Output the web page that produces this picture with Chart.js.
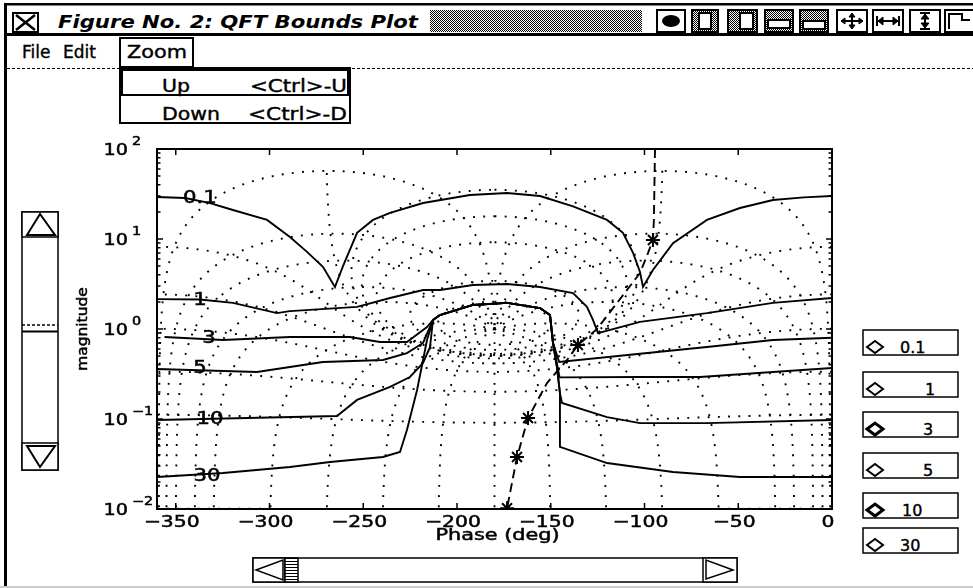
<!DOCTYPE html>
<html>
<head>
<meta charset="utf-8">
<title>QFT Bounds Plot</title>
<script src="https://cdn.jsdelivr.net/npm/chart.js@4.4.1/dist/chart.umd.min.js"></script>
<style>
  html, body { margin: 0; padding: 0; background: #fff; }
  #win { position: relative; width: 973px; height: 588px; overflow: hidden; background: #fff; }
  #chrome, #plot { position: absolute; left: 0; top: 0; }
</style>
</head>
<body>
<div id="win">
<svg id="chrome" width="973" height="588" viewBox="0 0 973 588" font-family="DejaVu Sans, sans-serif">
  <defs>
    <pattern id="dither" width="2" height="2" patternUnits="userSpaceOnUse">
      <rect width="2" height="2" fill="#fff"/><rect width="1" height="1" fill="#000"/><rect x="1" y="1" width="1" height="1" fill="#000"/>
    </pattern>
    <pattern id="hatch" width="3" height="3" patternUnits="userSpaceOnUse">
      <rect width="3" height="3" fill="#fff"/><rect width="3" height="1" fill="#000"/>
    </pattern>
  </defs>
  <!-- window frame -->
  <rect x="4" y="3" width="969" height="2.5" fill="#000"/>
  <rect x="4" y="3" width="3" height="585" fill="#000"/>
  <rect x="4" y="33" width="969" height="3" fill="#000"/>
  <line x1="7" y1="68.5" x2="973" y2="68.5" stroke="#000" stroke-dasharray="3 2"/>
  <rect x="0" y="586" width="973" height="2" fill="#ccc"/>
  <!-- title bar -->
  <rect x="13" y="13" width="25" height="19" fill="none" stroke="#000" stroke-width="2"/>
  <path d="M16 15 L35 30 M35 15 L16 30" stroke="#000" stroke-width="2.5"/>
  <text x="58" y="28" font-size="18" font-weight="bold" font-style="italic" textLength="360" lengthAdjust="spacingAndGlyphs">Figure No. 2: QFT Bounds Plot</text>
  <rect x="430" y="10" width="212" height="22" fill="url(#dither)"/>
  <g stroke="#000" stroke-width="2">
    <rect x="657" y="10" width="28" height="22" fill="#fff"/>
    <ellipse cx="671" cy="21" rx="9" ry="6" fill="#000" stroke="none"/>
    <rect x="692" y="10" width="26" height="22" fill="url(#dither)"/>
    <rect x="699" y="13" width="12" height="16" fill="#fff"/>
    <rect x="728" y="10" width="29" height="22" fill="url(#dither)"/>
    <rect x="740" y="13" width="13" height="16" fill="#fff"/>
    <rect x="765" y="10" width="28" height="22" fill="url(#dither)"/>
    <rect x="768" y="20" width="22" height="8" fill="#fff"/>
    <rect x="800" y="10" width="28" height="22" fill="url(#dither)"/>
    <rect x="803" y="21" width="22" height="8" fill="#fff"/>
    <rect x="837" y="10" width="30" height="22" fill="#fff"/>
    <path d="M841 21 H863 M852 13 V29"/>
    <path d="M841 21 l4 -3 v6 z M863 21 l-4 -3 v6 z M852 13 l-3 4 h6 z M852 29 l-3 -4 h6 z" fill="#000" stroke-width="1"/>
    <rect x="873" y="10" width="30" height="22" fill="#fff"/>
    <path d="M877 21 H899 M877 16 V26 M899 16 V26"/>
    <path d="M878 21 l5 -4 v8 z M898 21 l-5 -4 v8 z" fill="#000" stroke-width="1"/>
    <rect x="910" y="10" width="30" height="22" fill="#fff"/>
    <path d="M925 13 V29 M920 13 H930 M920 29 H930"/>
    <path d="M925 14 l-4 5 h8 z M925 28 l-4 -5 h8 z" fill="#000" stroke-width="1"/>
    <rect x="945" y="10" width="30" height="22" fill="#fff"/>
    <path d="M949 29 V14 H962 V20 H970" fill="none"/>
  </g>
  <!-- menu bar -->
  <g font-size="17" stroke="#000" stroke-width="0.4">
    <text x="22" y="58">File</text>
    <text x="63" y="58">Edit</text>
    <text x="127" y="58" textLength="60" lengthAdjust="spacingAndGlyphs">Zoom</text>
  </g>
  <rect x="120" y="38" width="73" height="29" fill="none" stroke="#000" stroke-width="2"/>
  <!-- zoom dropdown -->
  <rect x="120" y="68" width="230" height="55" fill="#fff" stroke="#000" stroke-width="2"/>
  <rect x="122" y="70" width="226" height="25" fill="none" stroke="#000" stroke-width="2"/>
  <g font-size="17" stroke="#000" stroke-width="0.4">
    <text x="162" y="92" textLength="28" lengthAdjust="spacingAndGlyphs">Up</text>
    <text x="250" y="92" textLength="97" lengthAdjust="spacingAndGlyphs">&lt;Ctrl&gt;-U</text>
    <text x="162" y="120" textLength="58" lengthAdjust="spacingAndGlyphs">Down</text>
    <text x="248" y="120" textLength="99" lengthAdjust="spacingAndGlyphs">&lt;Ctrl&gt;-D</text>
  </g>
  <!-- vertical scrollbar -->
  <g fill="#fff" stroke="#000" stroke-width="1.5">
    <rect x="22" y="212" width="36" height="258"/>
    <rect x="22" y="212" width="36" height="25"/>
    <polygon points="27,235 55,235 40,214" stroke-width="2"/>
    <rect x="22" y="443" width="36" height="27"/>
    <polygon points="27,446 55,446 40,467" stroke-width="2"/>
    <line x1="22" y1="325" x2="58" y2="325" stroke-dasharray="3 2"/>
    <line x1="22" y1="331.5" x2="58" y2="331.5" stroke-width="2"/>
  </g>
  <!-- horizontal scrollbar -->
  <g fill="#fff" stroke="#000" stroke-width="1.5">
    <rect x="253" y="558" width="484" height="24"/>
    <rect x="253" y="558" width="32" height="24"/>
    <polygon points="256,570 283,560 283,580"/>
    <rect x="285" y="558" width="13" height="24" fill="url(#hatch)"/>
    <rect x="703" y="558" width="34" height="24"/>
    <polygon points="733,570 706,560 706,579"/>
  </g>
  <g id="bounds-buttons"></g>
</svg>
<canvas id="plot" width="973" height="588"></canvas>
</div>

<script>
// axis ticks
const phaseTicks = [-350, -300, -250, -200, -150, -100, -50, 0];
const magDecades = [0.01, 0.1, 1, 10, 100];
const magExponents = ['\u22122', '\u22121', '0', '1', '2'];

// QFT bounds, [phase deg, magnitude]
const bound01 = [[-360, 29.3], [-345, 28.5], [-331.7, 25], [-319.5, 21], [-301.3, 16.3], [-289.1, 10.5],
  [-280, 7.2], [-271.5, 4.9], [-265.1, 2.93], [-260.8, 5.0], [-253.3, 11.7], [-244.8, 16.3], [-235.7, 19.5],
  [-218.1, 25.1], [-193.1, 30.8], [-173.3, 32.5], [-155.7, 30.0], [-138.1, 23], [-120, 16.3], [-111.5, 11.7],
  [-106.1, 7.0], [-102.4, 4.3], [-100.8, 2.93], [-95.5, 4.52], [-84.8, 9.0], [-66.7, 16.3], [-49.1, 22.1],
  [-31.5, 27.1], [-15, 29], [0, 30]];
const bound1 = [[-360, 2.15], [-337.1, 2.13], [-319.5, 1.95], [-296, 1.5], [-289.1, 1.58], [-253.3, 1.76],
  [-235.7, 2.21], [-218.1, 2.71], [-209, 2.71], [-191.5, 3.08], [-173.3, 3.16], [-155.7, 2.93], [-138.1, 2.51],
  [-130.7, 1.76], [-127.5, 1.26], [-124.8, 0.9], [-102.4, 1.2], [-66.7, 1.5], [-31.5, 1.95], [0, 2.21]];
const bound3 = [[-356, 0.815], [-324.8, 0.755], [-289.1, 0.815], [-257.1, 0.815], [-241.1, 0.717], [-226.7, 0.717],
  [-216, 1.05], [-212.8, 1.26], [-209.1, 1.43], [-191.5, 1.85], [-173.3, 1.95], [-155.7, 1.71], [-150.4, 1.43],
  [-148.8, 0.7], [-145.5, 0.43], [-102.4, 0.53], [-66.7, 0.63], [-31.5, 0.755], [0, 0.8]];
const bound5 = [[-360, 0.36], [-306.7, 0.333], [-289.1, 0.378], [-271.5, 0.43], [-239.5, 0.453], [-226.7, 0.54],
  [-218.1, 0.7], [-212.8, 1.26], [-209.1, 1.43], [-191.5, 1.85], [-173.3, 1.95], [-155.7, 1.71], [-150.4, 1.43],
  [-148.8, 0.7], [-145.3, 0.29], [-102.4, 0.293], [-70.4, 0.293], [-31.5, 0.333], [0, 0.369]];
const bound10 = [[-360, 0.0975], [-264, 0.108], [-253.3, 0.163], [-235.7, 0.227], [-225.1, 0.293], [-218.1, 0.42],
  [-214.4, 0.63], [-212.8, 1.26], [-209.1, 1.43], [-191.5, 1.85], [-173.3, 1.95], [-155.7, 1.71], [-150.4, 1.43],
  [-148.8, 0.7], [-146.7, 0.378], [-145.1, 0.194], [-144, 0.151], [-120, 0.105], [-102.4, 0.09], [-66.7, 0.09],
  [0, 0.0975]];
const bound30 = [[-360, 0.0227], [-324.8, 0.0251], [-289.1, 0.0293], [-267.7, 0.0333], [-239.5, 0.0378],
  [-230.4, 0.043], [-226.7, 0.0755], [-221.3, 0.21], [-218.1, 0.453], [-216, 0.755], [-212.8, 1.26], [-209.1, 1.43],
  [-191.5, 1.85], [-173.3, 1.95], [-155.7, 1.71], [-150.4, 1.43], [-148.8, 0.7], [-146.7, 0.378], [-145.1, 0.194],
  [-145.1, 0.049], [-120, 0.0324], [-84.8, 0.0258], [-49.1, 0.0227], [0, 0.0227]];

const boundLabels = ['0.1', '1', '3', '5', '10', '30'];
const boundLabelAt = [[-337.1, 27.8], [-337.1, 2.05], [-332.3, 0.774], [-337.1, 0.36], [-331.7, 0.0975], [-333.3, 0.0227]];

// open-loop response (dashed) and its marked frequencies
const loopResponse = [[-94.4, 100], [-95, 16], [-95.5, 9.75], [-98.1, 7.0], [-102.4, 4.19], [-125.3, 1.0],
  [-135.5, 0.664], [-141.3, 0.453], [-152, 0.251], [-162.1, 0.1026], [-168, 0.0378], [-173.3, 0.0102]];
const loopStar = [0, 0, 1, 0, 0, 0, 1, 0, 0, 1, 1, 1];

// Nichols grid levels: closed-loop magnitude (dB) and closed-loop phase (deg)
const gridMdB = [6, 3, 1, 0.5, 0.25, 0, -1, -3, -6, -12, -20, -40];
const gridNdeg = [-1, -5, -10, -20, -30, -60, -90, -120, -150, -180, 150, 120, 90, 60, 30, 20, 10, 5, 1];
const gridMaxMag = 57.5;

// right-hand bound selector buttons
const btnTop = [330, 372, 412, 453, 493, 528];
const btnTextX = [900, 925, 923, 923, 902, 900];
const btnHeavy = [false, false, true, false, true, false];
let btnSvg = '';
boundLabels.forEach((lab, i) => {
  const t = btnTop[i], c = t + 17;
  btnSvg += `<rect x="863" y="${t}" width="95" height="25" fill="#fff" stroke="#000" stroke-width="1.5"/>` +
    `<polygon points="867,${c} 875,${c - 6} 883,${c} 875,${c + 6}" fill="#fff" stroke="#000" stroke-width="${btnHeavy[i] ? 3 : 2}"/>` +
    `<text x="${btnTextX[i]}" y="${t + 23}" font-size="16" stroke="#000" stroke-width="0.4">${lab}</text>`;
});
document.getElementById('bounds-buttons').innerHTML = btnSvg;

// grid contour geometry from the closed-loop relation L = T / (1 - T)
function mContour(mdb) {
  const M = Math.pow(10, mdb / 20), pts = [];
  for (let k = 0; k <= 1440; k++) {
    const th = -k * 0.25 * Math.PI / 180;
    const tr = M * Math.cos(th), ti = M * Math.sin(th);
    const d = 1 - 2 * tr + M * M;
    if (d < 1e-9) continue;
    const lr = (tr - M * M) / d, li = ti / d;
    let ph;
    if (M < 1) ph = (th - Math.atan2(-ti, 1 - tr)) * 180 / Math.PI;
    else { ph = Math.atan2(li, lr) * 180 / Math.PI; if (ph > 0) ph -= 360; }
    pts.push([ph, Math.hypot(lr, li)]);
  }
  return pts;
}
function nContour(ndeg) {
  const n = ndeg * Math.PI / 180, pts = [];
  for (let k = 0; k <= 4000; k++) {
    const M = Math.pow(10, -3 + 6 * k / 4000);
    const tr = M * Math.cos(n), ti = M * Math.sin(n);
    const d = 1 - 2 * tr + M * M;
    const lr = (tr - M * M) / d, li = ti / d;
    let ph = Math.atan2(li, lr) * 180 / Math.PI;
    if (ph > 0) ph -= 360;
    pts.push([ph, Math.hypot(lr, li)]);
  }
  return pts;
}

function strokeTrace(ctx, xs, ys, pts) {
  ctx.beginPath();
  let pen = false, prev = null;
  pts.forEach(([ph, mg]) => {
    if (!(mg > 1e-4) || mg > gridMaxMag) { pen = false; prev = null; return; }
    if (prev !== null && Math.abs(ph - prev) > 60) pen = false;
    const px = xs.getPixelForValue(ph), py = ys.getPixelForValue(mg);
    if (pen) ctx.lineTo(px, py); else ctx.moveTo(px, py);
    pen = true; prev = ph;
  });
  ctx.stroke();
}

// scanned X11 fonts are wide and heavy: stretch horizontally and give a thin outline
function wideText(ctx, txt, x, y, sx, align) {
  ctx.save();
  ctx.translate(x, y);
  ctx.scale(sx, 1);
  ctx.textAlign = align;
  ctx.lineWidth = 0.5;
  ctx.fillText(txt, 0, 0);
  ctx.strokeText(txt, 0, 0);
  ctx.restore();
}

const nicholsGrid = {
  id: 'nicholsGrid',
  beforeDatasetsDraw(chart) {
    const { ctx, chartArea: a, scales: { x, y } } = chart;
    ctx.save();
    ctx.beginPath();
    ctx.rect(a.left, a.top, a.right - a.left, a.bottom - a.top);
    ctx.clip();
    ctx.strokeStyle = '#000';
    ctx.lineWidth = 1.9;
    ctx.setLineDash([1.9, 8.3]);
    gridMdB.forEach(m => strokeTrace(ctx, x, y, mContour(m)));
    gridNdeg.forEach(n => strokeTrace(ctx, x, y, nContour(n)));
    ctx.restore();
  }
};

const axesDecor = {
  id: 'axesDecor',
  afterDraw(chart) {
    const { ctx, chartArea: a, scales: { x, y } } = chart;
    ctx.save();
    ctx.strokeStyle = '#000';
    ctx.fillStyle = '#000';
    ctx.setLineDash([]);
    ctx.lineWidth = 2;
    ctx.strokeRect(a.left, a.top, a.right - a.left, a.bottom - a.top);

    // inward tick marks
    ctx.lineWidth = 1.5;
    ctx.beginPath();
    phaseTicks.forEach(v => {
      const px = x.getPixelForValue(v);
      ctx.moveTo(px, a.top); ctx.lineTo(px, a.top + 6);
      ctx.moveTo(px, a.bottom); ctx.lineTo(px, a.bottom - 6);
    });
    magDecades.forEach((dec, i) => {
      for (let m = 1; m <= 9; m++) {
        if (i === magDecades.length - 1 && m > 1) break;
        const py = y.getPixelForValue(dec * m), len = m === 1 ? 6 : 3.5;
        ctx.moveTo(a.left, py); ctx.lineTo(a.left + len, py);
        ctx.moveTo(a.right, py); ctx.lineTo(a.right - len, py);
      }
    });
    ctx.stroke();

    // x tick labels and title
    ctx.textBaseline = 'alphabetic';
    ctx.font = '16px "DejaVu Sans"';
    phaseTicks.forEach(v => {
      const s = v < 0 ? '\u2212' + Math.abs(v) : String(v);
      wideText(ctx, s, x.getPixelForValue(v) - 4, a.bottom + 18, 1.27, 'center');
    });
    wideText(ctx, 'Phase (deg)', (a.left + a.right) / 2 + 3, a.bottom + 31, 1.3, 'center');

    // y tick labels 10^k
    magDecades.forEach((dec, i) => {
      const py = y.getPixelForValue(dec);
      ctx.font = '16px "DejaVu Sans"';
      wideText(ctx, '10', 128, py + 6, 1.2, 'right');
      ctx.font = '12px "DejaVu Sans"';
      wideText(ctx, magExponents[i], 132, py - 4, 1.2, 'left');
    });

    // y title
    ctx.save();
    ctx.translate(83, (a.top + a.bottom) / 2);
    ctx.rotate(-Math.PI / 2);
    ctx.font = '14px "DejaVu Sans"';
    ctx.textBaseline = 'middle';
    wideText(ctx, 'magnitude', 0, 0, 1.1, 'center');
    ctx.restore();

    // bound labels on the curves
    ctx.font = '17px "DejaVu Sans"';
    ctx.textBaseline = 'middle';
    boundLabels.forEach((lab, i) => {
      const [ph, mg] = boundLabelAt[i];
      wideText(ctx, lab, x.getPixelForValue(ph), y.getPixelForValue(mg), 1.25, 'center');
    });
    ctx.restore();
  }
};

const toXY = pts => pts.map(([x, y]) => ({ x, y }));
const boundSet = (lab, pts) => ({
  label: lab, data: toXY(pts), showLine: true, borderColor: '#000', borderWidth: 1.9,
  pointRadius: 0, fill: false, tension: 0
});

new Chart(document.getElementById('plot'), {
  type: 'scatter',
  data: {
    datasets: [
      boundSet('0.1', bound01),
      boundSet('1', bound1),
      boundSet('3', bound3),
      boundSet('5', bound5),
      boundSet('10', bound10),
      boundSet('30', bound30),
      {
        label: 'loop', data: toXY(loopResponse), showLine: true, borderColor: '#000', borderWidth: 1.9,
        borderDash: [9, 5], tension: 0, fill: false,
        pointStyle: 'star', pointRadius: loopStar.map(s => s ? 7 : 0),
        pointBorderColor: '#000', pointBorderWidth: 2, pointBackgroundColor: '#000'
      }
    ]
  },
  options: {
    responsive: false,
    animation: false,
    events: [],
    layout: { padding: { left: 0, top: 149, right: 141, bottom: 0 } },
    plugins: { legend: { display: false }, tooltip: { enabled: false } },
    scales: {
      x: {
        type: 'linear', min: -360, max: 0,
        ticks: { display: false }, grid: { display: false, drawTicks: false }, border: { display: false },
        afterFit: s => { s.height = 79; }
      },
      y: {
        type: 'logarithmic', min: 0.01, max: 100,
        ticks: { display: false }, grid: { display: false, drawTicks: false }, border: { display: false },
        afterFit: s => { s.width = 157; }
      }
    }
  },
  plugins: [nicholsGrid, axesDecor]
});
</script>
</body>
</html>
